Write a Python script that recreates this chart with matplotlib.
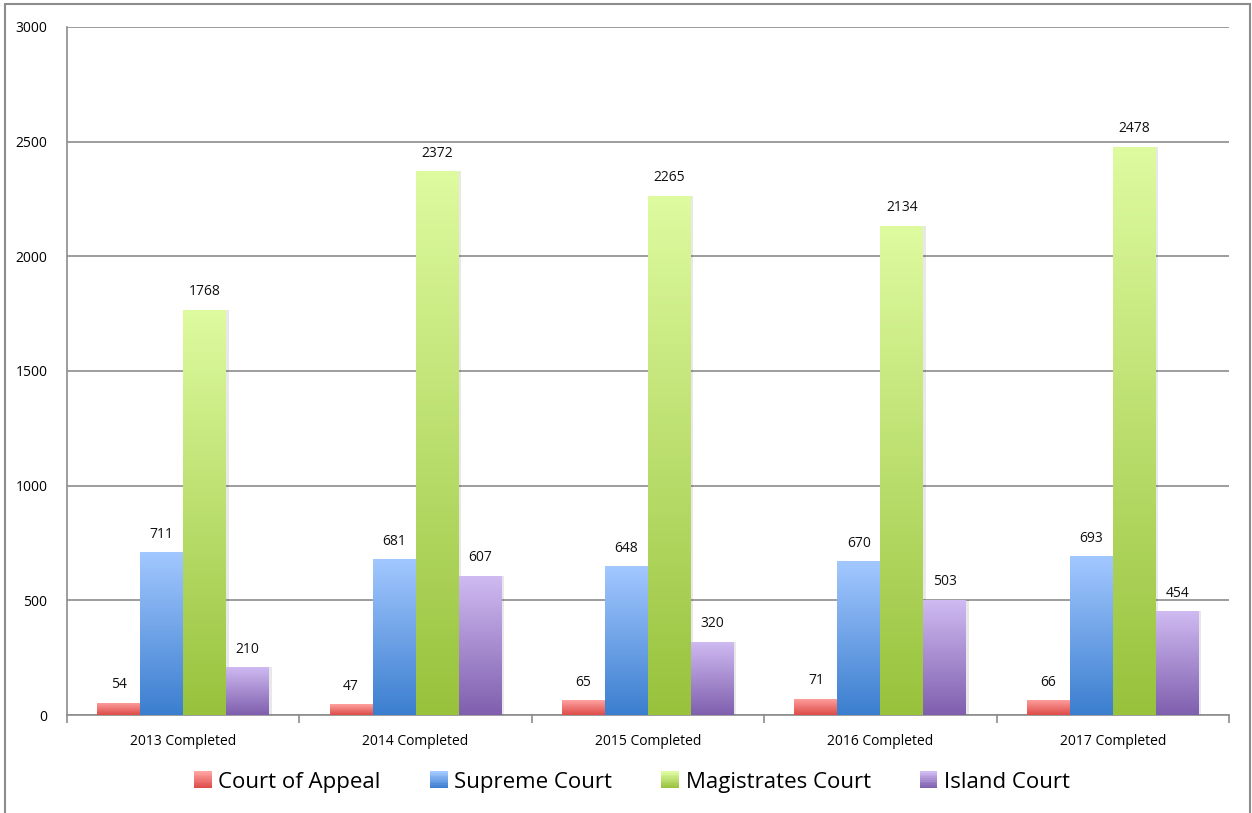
import numpy as np
import matplotlib
matplotlib.use("Agg")
import matplotlib.pyplot as plt
from matplotlib.colors import LinearSegmentedColormap
from matplotlib.patches import Rectangle, Patch
from matplotlib.legend_handler import HandlerPatch

categories = ["2013 Completed", "2014 Completed", "2015 Completed", "2016 Completed", "2017 Completed"]
series_names = ["Court of Appeal", "Supreme Court", "Magistrates Court", "Island Court"]
court_of_appeal = [54, 47, 65, 71, 66]
supreme_court = [711, 681, 648, 670, 693]
magistrates_court = [1768, 2372, 2265, 2134, 2478]
island_court = [210, 607, 320, 503, 454]
series_values = [court_of_appeal, supreme_court, magistrates_court, island_court]
# (top colour, bottom colour) per series
gradients = [("#FFA3A1", "#DD4B48"), ("#A3C8FF", "#3B7ECF"),
             ("#DEFBA0", "#98C23C"), ("#D0BBF2", "#7F5FAE")]

plt.rcParams['font.family'] = ['Open Sans', 'DejaVu Sans']

fig = plt.figure(figsize=(12.52, 8.13), dpi=100)
ax = fig.add_axes([67/1252, 1-715/813, (1229-67)/1252, (715-27)/813])

n = len(categories)
x = np.arange(n)
bw = 0.185
offsets = (np.arange(4) - 1.5) * bw

ax.set_xlim(-0.5, n - 0.5)
ax.set_ylim(0, 3000)

grad = np.linspace(1, 0, 256).reshape(-1, 1)
for i, (vals, (ctop, cbot)) in enumerate(zip(series_values, gradients)):
    cmap = LinearSegmentedColormap.from_list(f"g{i}", [cbot, ctop])
    for j, v in enumerate(vals):
        x0 = x[j] + offsets[i] - bw / 2
        # shadow
        sh = Rectangle((x0 + 0.01, 0), bw, v, facecolor="#000000", alpha=0.09,
                       edgecolor="none", zorder=2)
        ax.add_patch(sh)
        rect = Rectangle((x0, 0), bw, v, facecolor="none", edgecolor="none", zorder=3)
        ax.add_patch(rect)
        im = ax.imshow(grad, cmap=cmap, vmin=0, vmax=1, aspect="auto",
                       extent=(x0, x0 + bw, 0, v), zorder=3, interpolation="bilinear")
        im.set_clip_path(rect)
        ax.text(x[j] + offsets[i], v + 45, str(v), ha="center", va="bottom",
                fontsize=10, color="#111111", zorder=5)

ax.set_xlim(-0.5, n - 0.5)
ax.set_ylim(0, 3000)
ax.set_yticks(np.arange(0, 3001, 500))
ax.yaxis.grid(True, color="#8c8c8c", linewidth=1.2, zorder=0)
ax.set_axisbelow(True)
ax.tick_params(axis="y", length=0, labelsize=10, pad=14)
ax.set_xticks(x)
ax.set_xticklabels(categories, fontsize=10)
ax.tick_params(axis="x", length=0, pad=14)
ax.set_xticks(np.arange(-0.5, n, 1.0), minor=True)
ax.tick_params(axis="x", which="minor", length=6, color="#8c8c8c", width=1.2)
for s in ["top", "right"]:
    ax.spines[s].set_visible(False)
for s in ["left", "bottom"]:
    ax.spines[s].set_color("#8c8c8c")
    ax.spines[s].set_linewidth(1.2)

# legend with gradient swatches
class GradHandler(HandlerPatch):
    def __init__(self, top, bot):
        super().__init__()
        self.top, self.bot = top, bot
    def create_artists(self, legend, orig_handle, xdescent, ydescent, width, height, fontsize, trans):
        arts = []
        nstep = 10
        h = height / nstep
        ctop = np.array(matplotlib.colors.to_rgb(self.top))
        cbot = np.array(matplotlib.colors.to_rgb(self.bot))
        for k in range(nstep):
            t = k / (nstep - 1)
            c = cbot * (1 - t) + ctop * t
            r = Rectangle((-xdescent, -ydescent + k * h), width, h + 0.3,
                          facecolor=c, edgecolor="none", transform=trans)
            arts.append(r)
        return arts

handles = [Patch(label=name) for name in series_names]
hmap = {h: GradHandler(t, b) for h, (t, b) in zip(handles, gradients)}
fig.legend(handles=handles, labels=series_names, handler_map=hmap,
           loc="center", bbox_to_anchor=(632/1252, 1-782/813), ncol=4,
           frameon=False, fontsize=16, handlelength=0.8, handleheight=0.8,
           handletextpad=0.3, columnspacing=2.2)

# figure border
fig.add_artist(Rectangle((5/1252, -0.01), (1250-5)/1252, 1 - 4/813 + 0.01,
                         transform=fig.transFigure, fill=False,
                         edgecolor="#8c8c8c", linewidth=1.5))

fig.savefig("out.png", dpi=100)
